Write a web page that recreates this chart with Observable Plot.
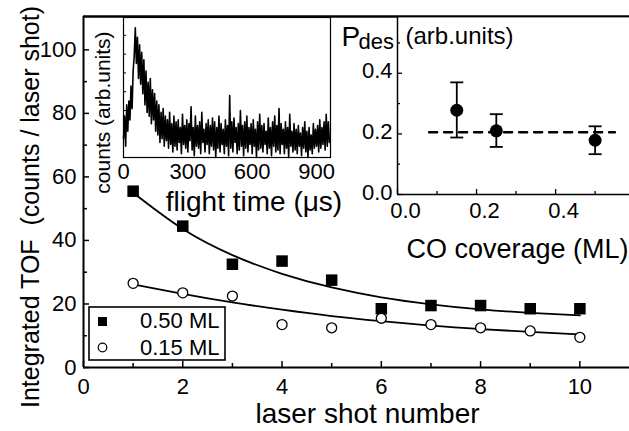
<!DOCTYPE html>
<html><head><meta charset="utf-8">
<script src="https://cdn.jsdelivr.net/npm/d3@7"></script>
<script src="https://cdn.jsdelivr.net/npm/@observablehq/plot@0.6"></script>
<style>
body{margin:0;background:#fff;}
#wrap{position:relative;width:629px;height:431px;overflow:hidden;font-family:"Liberation Sans",Arial,sans-serif;}
#wrap svg{position:absolute;overflow:visible;}
</style></head><body><div id="wrap"></div>
<script>
// ---- main panel data ----
const shots = [1, 2, 3, 4, 5, 6, 7, 8, 9, 10];
const tof050 = [55.5, 44.5, 32.5, 33.5, 27.5, 18.5, 19.5, 19.5, 18.5, 18.5];
const tof015 = [26.5, 23.5, 22.5, 13.5, 12.5, 15.5, 13.5, 12.5, 11.5, 9.5];
const fit050 = [55, 43.6, 35.4, 29.5, 25.2, 22.1, 19.9, 18.3, 17.2, 16.4];
const fit015 = [26.2, 23.2, 20.5, 18.2, 16.2, 14.6, 13.2, 12.1, 11.2, 10.4];
const legendLabels = ["0.50 ML", "0.15 ML"];
const xMajor = [0, 2, 4, 6, 8, 10];
const xMinor = [1, 3, 5, 7, 9];
const yMajor = [0, 20, 40, 60, 80, 100];
const yMinor = [10, 30, 50, 70, 90];
const xLabel = "laser shot number";
const yLabel = "Integrated TOF  (counts / laser shot)";

// ---- TOF inset data (flight time in µs, counts arb. units) ----
const tofStep = 5;
const tofCounts = [
  1.0, 2.2, 0.6, 2.8, 1.4, 3.0, 2.0, 3.8, 2.6, 4.6,
  5.4, 6.9, 5.0, 6.4, 4.2, 6.0, 3.9, 5.6, 3.4, 5.2,
  2.8, 4.6, 2.4, 4.0, 2.2, 4.2, 1.8, 3.6, 2.0, 3.4,
  1.4, 3.0, 1.2, 2.8, 0.8, 2.4, 1.0, 2.6, 0.6, 2.2,
  0.9, 2.0, 0.5, 2.4, 0.7, 1.8, 0.3, 2.2, 0.6, 1.9,
  0.4, 2.0, 0.8, 1.6, 0.2, 2.3, 0.7, 1.7, 0.5, 2.0,
  0.3, 1.8, 0.9, 2.7, 0.4, 1.6, 0.1, 2.2, 0.6, 1.7,
  0.5, 1.9, 0.2, 2.4, 0.8, 1.5, 0.3, 1.8, 0.7, 2.0,
  0.2, 1.7, 0.6, 2.1, 0.4, 1.9, 0.0, 1.6, 0.5, 2.2,
  0.3, 1.8, 0.7, 1.5, 0.2, 2.0, 0.6, 1.7, 0.1, 3.3,
  0.5, 1.9, 0.3, 2.1, 0.8, 1.6, 0.2, 1.8, 0.4, 2.5,
  0.6, 1.7, 0.1, 1.9, 0.5, 2.2, 0.3, 1.6, 0.7, 1.8,
  0.2, 2.0, 0.6, 1.5, 0.0, 1.9, 0.4, 2.3, 0.5, 1.7,
  0.3, 1.8, 0.7, 1.4, 0.2, 2.1, 0.5, 1.6, 0.1, 1.9,
  0.6, 2.2, 0.3, 1.7, 0.4, 2.6, 0.2, 1.8, 0.7, 1.5,
  0.2, 1.9, 0.5, 1.6, 0.0, 2.3, 0.6, 1.4, 0.3, 1.8,
  0.4, 1.5, 0.2, 1.7, 0.6, 1.3, 0.1, 1.6, 0.5, 1.9,
  0.3, 1.4, 0.0, 1.6, 0.4, 1.2, 0.2, 1.8, 0.5, 1.5,
  0.6, 1.7, 0.3, 2.0, 0.5, 1.6, 0.7, 1.9, 0.4, 2.3,
  0.6, 1.9, 0.8
];
const tofXTicks = [0, 300, 600, 900];
const tofYTicks = [1.5, 2.5, 3.5, 4.5, 5.5, 6.5];
const tofXLabel = "flight time (\u03bcs)";
const tofYLabel = "counts (arb.units)";

// ---- P_des inset data ----
const coverage = [0.15, 0.25, 0.50];
const pdes = [0.278, 0.21, 0.179];
const pdesLo = [0.188, 0.157, 0.133];
const pdesHi = [0.370, 0.265, 0.225];
const pdesMean = 0.205;
const pdesMeanSpan = [0.08, 0.55];
const pXMajor = [0, 0.2, 0.4];
const pXMinor = [0.1, 0.3, 0.5];
const pYMajor = [0, 0.2, 0.4];
const pYMinor = [0.1, 0.3, 0.5];
const pXLabel = "CO coverage (ML)";

const FONT = "Liberation Sans, Arial, Helvetica, sans-serif";
const wrap = document.getElementById("wrap");
function place(svg, left, top) {
  svg.style.left = left + "px";
  svg.style.top = top + "px";
  wrap.appendChild(svg);
}

// ---------- main chart ----------
const rows = shots.map((s, i) => ({s, a: tof050[i], b: tof015[i], fa: fit050[i], fb: fit015[i]}));
const main = Plot.plot({
  width: 629, height: 431,
  marginLeft: 83, marginRight: 0, marginTop: 16, marginBottom: 64,
  x: {domain: [0, 11]},
  y: {domain: [0, 110.5]},
  style: {fontFamily: FONT, fontSize: "22px", color: "black", background: "none"},
  marks: [
    Plot.ruleX([0], {strokeWidth: 2}),
    Plot.ruleY([0], {strokeWidth: 2}),
    Plot.ruleY([110.5], {strokeWidth: 2.6}),
    Plot.axisX({ticks: xMajor, tickSize: 6, dy: -6, fill: "none", label: null, strokeWidth: 1.5}),
    Plot.axisX({ticks: xMinor, tickSize: 4, dy: -4, fill: "none", label: null, strokeWidth: 1.5}),
    Plot.axisY({ticks: yMajor, tickSize: 6, dx: 6, fill: "none", label: null, strokeWidth: 1.5}),
    Plot.axisY({ticks: yMinor, tickSize: 4, dx: 4, fill: "none", label: null, strokeWidth: 1.5}),
    Plot.axisX({ticks: xMajor, tickSize: 0, tickPadding: 11, label: null, fontSize: 22}),
    Plot.axisY({ticks: yMajor, tickSize: 0, tickPadding: 7, label: null, fontSize: 22}),
    Plot.line(rows, {x: "s", y: "fa", curve: "natural", strokeWidth: 1.8}),
    Plot.line(rows, {x: "s", y: "fb", curve: "natural", strokeWidth: 1.8}),
    Plot.dot(rows, {x: "s", y: "a", symbol: "square", r: 6.5, fill: "black", stroke: null}),
    Plot.dot(rows, {x: "s", y: "b", symbol: "circle", r: 5, fill: "white", stroke: "black", strokeWidth: 1.3}),
    Plot.text([xLabel], {text: d => d, frameAnchor: "bottom", textAnchor: "middle", dx: 11, dy: 55, lineAnchor: "bottom", fontSize: 28}),
    Plot.text([yLabel], {text: d => d, frameAnchor: "left", textAnchor: "middle", dx: -53, dy: 15, rotate: -90, lineAnchor: "middle", fontSize: 25})
  ]
});
place(main, 0, 0);

// ---------- legend ----------
const NS = "http://www.w3.org/2000/svg";
const leg = document.createElementNS(NS, "svg");
leg.setAttribute("width", 140); leg.setAttribute("height", 57);
leg.setAttribute("font-family", FONT);
leg.innerHTML =
  `<rect x="1" y="1" width="136" height="53" fill="white" stroke="black" stroke-width="1.6"/>` +
  `<rect x="10" y="11" width="9" height="9" fill="black"/>` +
  `<circle cx="14.5" cy="41.5" r="4.3" fill="white" stroke="black" stroke-width="1.2"/>`;
legendLabels.forEach((t, i) => {
  const tx = document.createElementNS(NS, "text");
  tx.setAttribute("x", 52); tx.setAttribute("y", 22 + i * 27);
  tx.setAttribute("font-size", 22);
  tx.textContent = t;
  leg.appendChild(tx);
});
place(leg, 88, 306);

// ---------- TOF inset ----------
const tof = tofCounts.map((c, i) => ({t: i * tofStep, c}));
const inset1 = Plot.plot({
  width: 262, height: 230,
  marginLeft: 53, marginRight: 2, marginTop: 17, marginBottom: 73,
  x: {domain: [0, 965]},
  y: {domain: [0, 7.45]},
  style: {fontFamily: FONT, fontSize: "22px", color: "black", background: "none"},
  marks: [
    Plot.frame({fill: "white", stroke: "black", strokeWidth: 1.2}),
    Plot.axisY({ticks: tofYTicks, tickSize: 3, dx: 3, fill: "none", label: null, strokeWidth: 1}),
    Plot.axisX({ticks: tofXTicks, tickSize: 0, tickPadding: 6, label: null, fontSize: 22}),
    Plot.line(tof, {x: "t", y: "c", strokeWidth: 1.6}),
    Plot.text([tofXLabel], {text: d => d, frameAnchor: "bottom", textAnchor: "middle", dx: 27, dy: 53, lineAnchor: "bottom", fontSize: 28}),
    Plot.text([tofYLabel], {text: d => d, frameAnchor: "left", textAnchor: "middle", dx: -20, dy: 25, rotate: -90, lineAnchor: "middle", fontSize: 21})
  ]
});
place(inset1, 70, 0);

// ---------- P_des inset ----------
const prow = coverage.map((c, i) => ({c, p: pdes[i], lo: pdesLo[i], hi: pdesHi[i]}));
const meanLine = pdesMeanSpan.map(c => ({c, p: pdesMean}));
const cap = {draw(ctx) { ctx.moveTo(-6.5, 0); ctx.lineTo(6.5, 0); }};
const inset2 = Plot.plot({
  width: 299, height: 270,
  marginLeft: 67, marginRight: 0, marginTop: 17, marginBottom: 76,
  x: {domain: [0, 0.587]},
  y: {domain: [0, 0.584]},
  style: {fontFamily: FONT, fontSize: "22px", color: "black", background: "none"},
  marks: [
    Plot.frame({fill: "white", stroke: null}),
    Plot.ruleX([0], {strokeWidth: 1.5}),
    Plot.ruleY([0], {strokeWidth: 1.5}),
    Plot.axisX({ticks: pXMajor, tickSize: 5, dy: -5, fill: "none", label: null, strokeWidth: 1.3}),
    Plot.axisX({ticks: pXMinor, tickSize: 3, dy: -3, fill: "none", label: null, strokeWidth: 1.3}),
    Plot.axisY({ticks: pYMajor, tickSize: 5, dx: 5, fill: "none", label: null, strokeWidth: 1.3}),
    Plot.axisY({ticks: pYMinor, tickSize: 3, dx: 3, fill: "none", label: null, strokeWidth: 1.3}),
    Plot.axisX({ticks: pXMajor, tickSize: 0, tickPadding: 8, dx: 8, tickFormat: ".1f", label: null, fontSize: 22}),
    Plot.axisY({ticks: pYMajor, tickSize: 0, tickPadding: 5, dy: -2, tickFormat: ".1f", label: null, fontSize: 22}),
    Plot.line(meanLine, {x: "c", y: "p", strokeWidth: 2.5, strokeDasharray: "8,7"}),
    Plot.ruleX(prow, {x: "c", y1: "lo", y2: "hi", strokeWidth: 1.8}),
    Plot.dot(prow, {x: "c", y: "lo", symbol: cap, stroke: "black", strokeWidth: 1.8}),
    Plot.dot(prow, {x: "c", y: "hi", symbol: cap, stroke: "black", strokeWidth: 1.8}),
    Plot.dot(prow, {x: "c", y: "p", r: 6.5, fill: "black", stroke: null}),
    Plot.text(["P"], {text: d => d, frameAnchor: "top-left", dx: -56, dy: 28, textAnchor: "start", lineAnchor: "bottom", fontSize: 28}),
    Plot.text(["des"], {text: d => d, frameAnchor: "top-left", dx: -39, dy: 31, textAnchor: "start", lineAnchor: "bottom", fontSize: 22}),
    Plot.text(["(arb.units)"], {text: d => d, frameAnchor: "top-left", dx: 8, dy: 26, textAnchor: "start", lineAnchor: "bottom", fontSize: 24}),
    Plot.text([pXLabel], {text: d => d, frameAnchor: "bottom", textAnchor: "middle", dx: 4, dy: 63, lineAnchor: "bottom", fontSize: 27})
  ]
});
place(inset2, 330, 0);
</script></body></html>
